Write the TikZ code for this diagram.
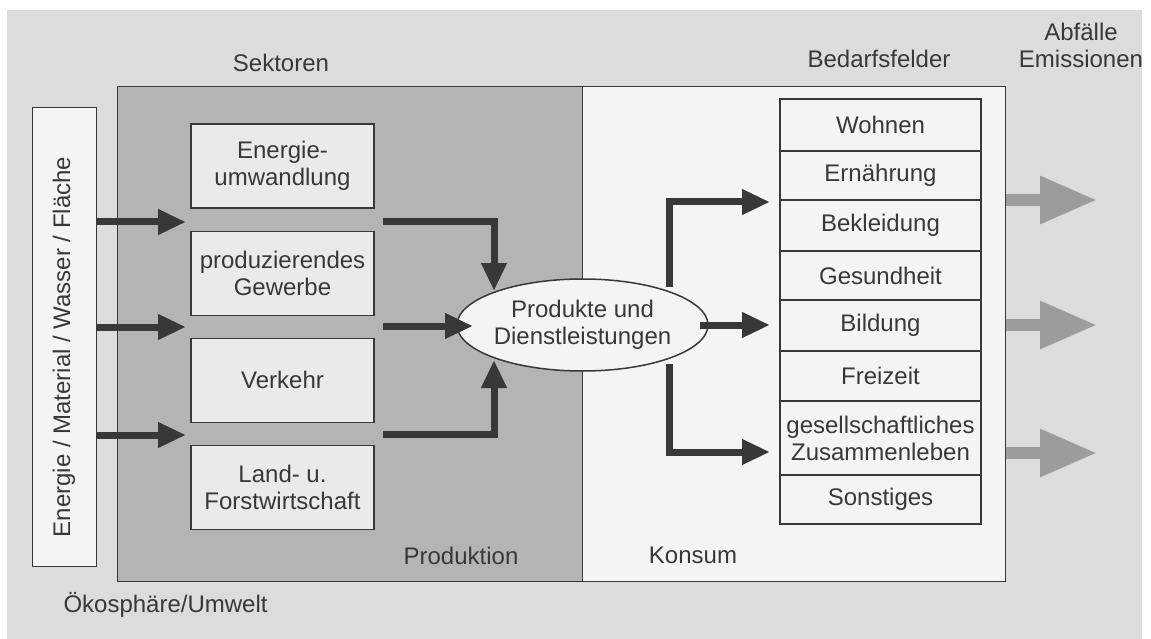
\documentclass[tikz,border=0pt]{standalone}
\usepackage{fontspec}
\setmainfont{Liberation Sans}
\usetikzlibrary{positioning,shapes.geometric,arrows.meta}
\definecolor{umwelt}{HTML}{DCDCDC}
\definecolor{prodgray}{HTML}{B4B4B4}
\definecolor{boxfill}{HTML}{EAEAEA}
\definecolor{konsumfill}{HTML}{F4F4F4}
\definecolor{linegray}{HTML}{383838}
\definecolor{emigray}{HTML}{9C9C9C}

\begin{document}
\begin{tikzpicture}[x=1pt, y=-1pt, font=\fontsize{24}{27}\selectfont, text=linegray,
  sektor/.style={draw=linegray, line width=1.2pt, fill=boxfill, minimum width=183pt, minimum height=84pt, align=center, inner sep=0pt},
  feld/.style={draw=linegray, line width=1.1pt, fill=konsumfill, minimum width=201pt, align=center, inner sep=0pt, outer sep=0pt},
  flow/.style={draw=linegray, line width=7pt, -{Triangle[length=28pt, width=24pt]}},
  emission/.style={draw=emigray, line width=12pt, -{Triangle[length=57pt, width=45pt]}}]
  \useasboundingbox (0,0) rectangle (1151,639);
  \fill[umwelt] (7,10) rectangle (1142,639);

  % Bereiche
  \node[draw=linegray, line width=1.2pt, fill=prodgray, minimum width=465pt, minimum height=495pt, inner sep=0pt, anchor=north west] (prod) at (117,86) {};
  \node[draw=linegray, line width=1.2pt, fill=konsumfill, minimum width=423pt, minimum height=495pt, inner sep=0pt, anchor=north west] (konsum) at (582,86) {};
  \node[draw=linegray, line width=1.2pt, fill=konsumfill, minimum width=64pt, minimum height=459pt, inner sep=0pt, anchor=north west] (input) at (32,107) {};
  \node[rotate=90] (inputlabel) at (64,347) {Energie / Material / Wasser / Fläche};

  % Sektoren
  \node[sektor] (energie) at (282.5,166) {Energie-\\umwandlung};
  \node[sektor, below=22pt of energie] (gewerbe) {produzierendes\\Gewerbe};
  \node[sektor, below=22pt of gewerbe] (verkehr) {Verkehr};
  \node[sektor, below=22pt of verkehr] (land) {Land- u.\\Forstwirtschaft};

  \node[ellipse, draw=linegray, line width=1.5pt, fill=konsumfill, minimum width=213pt, minimum height=92pt, inner sep=0pt, align=center] (produkte) at (582.5,325) {Produkte und\\Dienstleistungen};

  % Bedarfsfelder
  \node[feld, minimum height=52pt, anchor=north] (wohnen) at (880.5,99) {Wohnen};
  \node[feld, minimum height=49pt, below=0pt of wohnen] (ernaehrung) {Ernährung};
  \node[feld, minimum height=51pt, below=0pt of ernaehrung] (bekleidung) {Bekleidung};
  \node[feld, minimum height=49pt, below=0pt of bekleidung] (gesundheit) {Gesundheit};
  \node[feld, minimum height=51pt, below=0pt of gesundheit] (bildung) {Bildung};
  \node[feld, minimum height=50pt, below=0pt of bildung] (freizeit) {Freizeit};
  \node[feld, minimum height=74pt, below=0pt of freizeit] (gesellschaft) {gesellschaftliches\\Zusammenleben};
  \node[feld, minimum height=49pt, below=0pt of gesellschaft] (sonstiges) {Sonstiges};

  % Beschriftungen
  \node (sektoren) at (281,63) {Sektoren};
  \node (bedarf) at (879,59) {Bedarfsfelder};
  \node[align=center] (abfaelle) at (1081,45) {Abfälle\\Emissionen};
  \node (produktion) at (461,556) {Produktion};
  \node (konsumlabel) at (693,555) {Konsum};
  \node[anchor=west] (oekosphaere) at (60,605) {Ökosphäre/Umwelt};

  % Punkte fuer die Pfeile
  \coordinate (in1) at (186,222);
  \coordinate (in2) at (186,327);
  \coordinate (in3) at (186,435);
  \coordinate (aus1) at (383,222);
  \coordinate (aus2) at (383,326);
  \coordinate (aus3) at (383,434);
  \coordinate (knick1) at (494,222);
  \coordinate (knick3) at (494,434);
  \coordinate (ein1) at (494,291);
  \coordinate (ein2) at (473,326);
  \coordinate (ein3) at (494,360);
  \coordinate (verteil1) at (669,287);
  \coordinate (verteil2) at (700,325);
  \coordinate (verteil3) at (669,364);
  \coordinate (ziel1) at (770,202);
  \coordinate (ziel2) at (770,325);
  \coordinate (ziel3) at (770,452);
  \coordinate (abfall1) at (1097,200);
  \coordinate (abfall2) at (1097,325);
  \coordinate (abfall3) at (1097,453);

  % Pfeile
  \draw[flow] (input.east |- in1) -- (in1);
  \draw[flow] (input.east |- in2) -- (in2);
  \draw[flow] (input.east |- in3) -- (in3);
  \draw[flow] (aus1) -- (knick1) -- (ein1);
  \draw[flow] (aus2) -- (ein2);
  \draw[flow] (aus3) -- (knick3) -- (ein3);
  \draw[flow] (verteil1) |- (ziel1);
  \draw[flow] (verteil2) -- (ziel2);
  \draw[flow] (verteil3) |- (ziel3);
  \draw[emission] (konsum.east |- abfall1) -- (abfall1);
  \draw[emission] (konsum.east |- abfall2) -- (abfall2);
  \draw[emission] (konsum.east |- abfall3) -- (abfall3);
\end{tikzpicture}
\end{document}
